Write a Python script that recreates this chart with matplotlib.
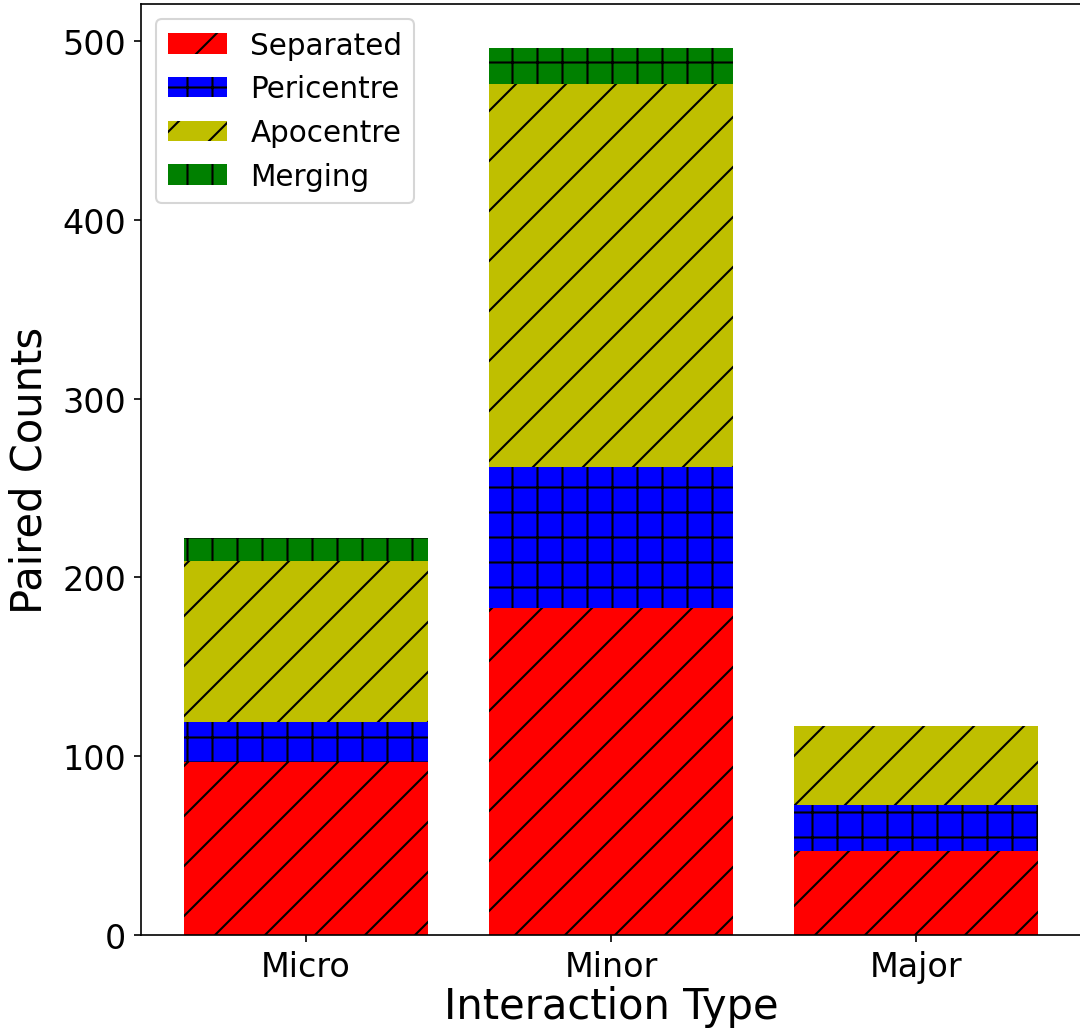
import numpy as np
import matplotlib
matplotlib.use('Agg')
from matplotlib import pyplot as plt

# interaction classes on the x axis
categories = ['Micro', 'Minor', 'Major']

# paired counts per orbital phase, stacked bottom to top
separated = [97, 183, 47]
pericentre = [22, 79, 26]
apocentre = [90, 214, 44]
merging = [13, 20, 0]

fig = plt.figure(figsize=(7.2, 6.893), dpi=150)
ax = fig.add_axes([141 / 1080, 98 / 1034, 940 / 1080, 931 / 1034])

x = np.arange(len(categories))
bottom = np.zeros(len(categories))

layers = [(separated, 'r', '/', 'Separated'),
          (pericentre, 'b', '+', 'Pericentre'),
          (apocentre, 'y', '/', 'Apocentre'),
          (merging, 'g', '+', 'Merging')]

for vals, col, hat, lab in layers:
    ax.bar(x, vals, bottom=bottom, color=col, hatch=hat, label=lab)
    bottom += np.array(vals)

ax.set_xticks(x)
ax.set_xticklabels(categories)
ax.tick_params(labelsize=16)
ax.set_xlabel('Interaction Type', fontsize=20, labelpad=1)
ax.set_ylabel('Paired Counts', fontsize=20, labelpad=6)
ax.legend(loc='upper left', fontsize=14.2)

plt.savefig('out.png', dpi=150)
